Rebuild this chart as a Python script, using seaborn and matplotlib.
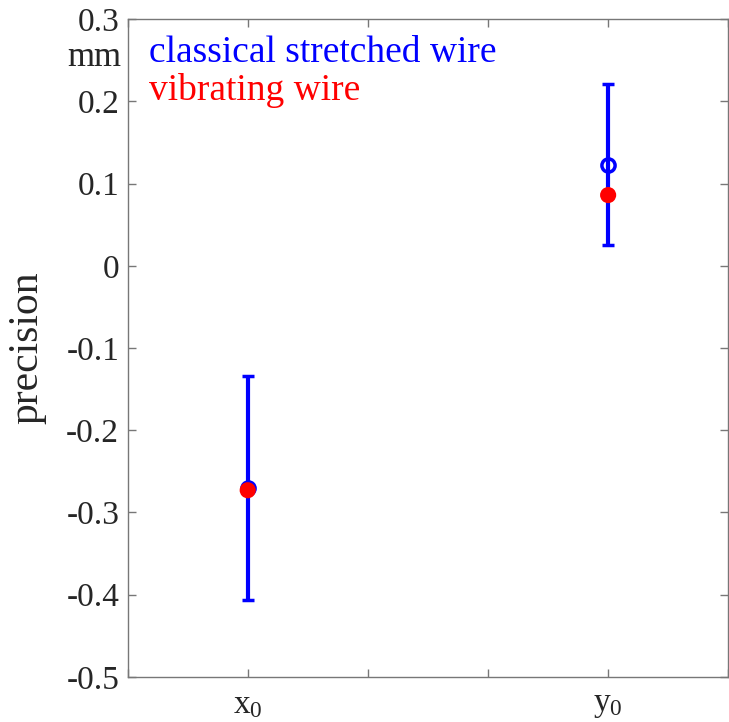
import matplotlib
matplotlib.use("Agg")
import matplotlib.pyplot as plt
import seaborn as sns
import pandas as pd

# data
params = ["x0", "y0"]
param_pos = [1, 4]
classical_mean = [-0.270, 0.123]
classical_err = [0.136, 0.098]
vibrating_mean = [-0.273, 0.086]
tick_labels = ["", r"$\mathrm{x}_0$", "", "", r"$\mathrm{y}_0$", ""]
y_ticks = [-0.5, -0.4, -0.3, -0.2, -0.1, 0, 0.1, 0.2, 0.3]

sns.set_style("ticks")
plt.rcParams["font.family"] = ["Liberation Serif", "DejaVu Serif"]
plt.rcParams["mathtext.fontset"] = "custom"
plt.rcParams["mathtext.rm"] = "Liberation Serif"
plt.rcParams["mathtext.it"] = "Liberation Serif"

df = pd.DataFrame({
    "param": params,
    "pos": param_pos,
    "classical": classical_mean,
    "err": classical_err,
    "vibrating": vibrating_mean,
})

fig = plt.figure(figsize=(7.29, 7.22), dpi=100)
ax = fig.add_axes([0.175, 0.0625, 0.824, 0.911])

ax.errorbar(df["pos"], df["classical"], yerr=df["err"], fmt="o", color="#0000ff",
            mfc="none", mec="#0000ff", ms=9.5, mew=2.5, elinewidth=3, capsize=4.5,
            capthick=3, zorder=3)
sns.scatterplot(data=df, x="pos", y="vibrating", ax=ax, color="#ff0000", s=135,
                edgecolor="none", zorder=4, legend=False)

ax.set_xlim(0, 5)
ax.set_ylim(-0.5, 0.3)
ax.set_xticks(range(6))
ax.set_xticklabels(tick_labels)
ax.set_yticks(y_ticks)
ax.set_yticklabels([f"{v:g}" for v in y_ticks])
ax.set_xlabel("")
ax.set_ylabel("precision", fontsize=30, labelpad=14)

for s in ax.spines.values():
    s.set_visible(True)
    s.set_color("#777777")
    s.set_linewidth(1)
ax.tick_params(direction="in", length=6, width=1, color="#777777",
               top=True, right=True, labelsize=24, pad=6)
ax.tick_params(axis="x", pad=9)

ax.text(-0.01, 0.928, "mm", transform=ax.transAxes, ha="right", va="baseline",
        fontsize=25)
ax.text(0.036, 0.935, "classical stretched wire", transform=ax.transAxes,
        color="#0000ff", fontsize=27, va="baseline")
ax.text(0.036, 0.877, "vibrating wire", transform=ax.transAxes,
        color="#ff0000", fontsize=27, va="baseline")

fig.savefig("out.png", dpi=100)
